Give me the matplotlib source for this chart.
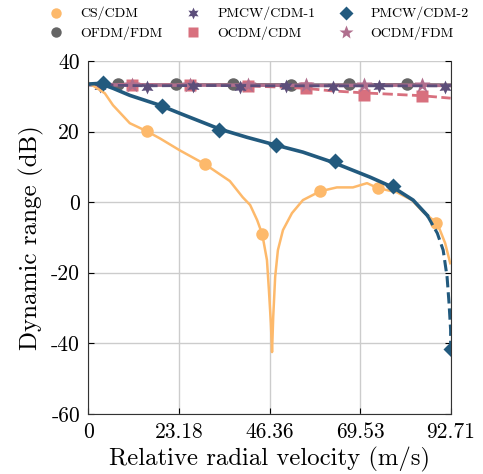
import matplotlib
matplotlib.use("Agg")
import matplotlib.pyplot as plt
from matplotlib.lines import Line2D

plt.rcParams['font.family'] = 'serif'
plt.rcParams['font.serif'] = ['cmr10', 'DejaVu Serif']
plt.rcParams['axes.formatter.use_mathtext'] = True

# velocity axis ticks
v_max = 92.71
x_ticks = [0, 23.18, 46.36, 69.53, 92.71]
x_labels = ['0', '23.18', '46.36', '69.53', '92.71']
y_ticks = [-60, -40, -20, 0, 20, 40]
y_labels = ['-60', '-40', '-20', '0', '20', '40']

# CS/CDM
cs_v = [0, 4.2, 6.3, 10.6, 15.0, 18.3, 23.4, 29.8, 36.2, 39.5, 41.4, 43.2, 44.5,
        45.7, 46.2, 46.7, 47.0, 47.3, 47.8, 48.5, 49.8, 52.1, 54.9, 59.3, 63.6,
        67.7, 71.3, 74.1, 79.0, 82.8, 85.7, 89.3, 91.3, 92.6]
cs_db = [33.9, 30.9, 27.5, 22.4, 20.1, 18.1, 14.7, 10.8, 6.0, 1.4, -0.8, -5.1, -9.1,
         -16.4, -24.9, -34.3, -42.5, -32.6, -21.2, -13.6, -7.9, -3.1, 0.6, 3.1, 4.2,
         4.2, 5.4, 4.0, 2.8, 0.6, -2.8, -6.0, -11.6, -17.3]
cs_mk_v = [15.0, 29.8, 44.5, 59.3, 74.1, 89.0]
cs_mk_db = [20.1, 10.8, -9.1, 3.1, 4.0, -6.0]

# PMCW/CDM-2
p2_v = [0, 2.9, 6.3, 10.6, 18.3, 23.4, 33.7, 40.6, 48.3, 54.9, 62.6, 72.1, 78.0,
        83.1, 86.7]
p2_db = [33.5, 33.7, 32.3, 30.3, 27.5, 25.2, 20.7, 18.4, 16.1, 14.2, 11.3, 7.1, 4.2,
         0.6, -3.7]
p2_tail_v = [86.7, 89.3, 90.8, 91.8, 92.3, 92.71, 92.71]
p2_tail_db = [-3.7, -8.8, -13.6, -21.2, -28.6, -36.3, -41.9]
p2_mk_v = [3.7, 18.8, 33.4, 48.0, 63.1, 78.0, 92.71]
p2_mk_db = [33.7, 27.2, 20.4, 16.1, 11.6, 4.5, -41.6]

# OFDM/FDM
of_v = [0, 20, 40, 60, 80, 92.71]
of_db = [33.4, 33.3, 33.4, 33.3, 33.4, 33.3]
of_mk_v = [7.5, 22.4, 37.0, 51.9, 66.7, 81.6]
of_mk_db = [33.4, 33.4, 33.4, 33.3, 33.4, 33.4]

# PMCW/CDM-1
p1_v = [0, 15, 30, 45, 60, 75, 92.71]
p1_db = [33.3, 33.0, 33.1, 33.0, 33.0, 33.0, 33.0]
p1_mk_v = [2.9, 14.9, 26.7, 38.8, 50.6, 62.6, 74.4, 91.3]
p1_mk_db = [33.0, 32.8, 32.9, 32.8, 32.9, 32.8, 32.9, 32.8]

# OCDM/CDM
oc_v = [0, 20, 40, 50, 55.6, 62, 70.5, 78, 85.3, 92.71]
oc_db = [33.5, 33.3, 33.0, 32.6, 32.3, 31.6, 31.0, 30.6, 30.2, 29.5]
oc_mk_v = [11.1, 26.0, 40.8, 55.6, 70.5, 85.3]
oc_mk_db = [33.2, 33.2, 33.0, 32.3, 30.3, 30.0]

# OCDM/FDM
of2_v = [0, 20, 40, 60, 80, 92.71]
of2_db = [33.3, 33.2, 33.2, 33.1, 33.2, 33.1]
of2_mk_v = [11.1, 26.0, 40.8, 55.6, 70.5, 85.3]
of2_mk_db = [33.3, 33.3, 33.3, 33.2, 33.3, 33.2]

c_cs = '#fdb96b'
c_of = '#656565'
c_p1 = '#5c4e7a'
c_p2 = '#225a7e'
c_oc = '#d8707e'
c_of2 = '#b06f8e'

fig = plt.figure(figsize=(4.83, 4.74), dpi=100)
ax = fig.add_axes([0.183, 0.127, 0.750, 0.744])

ax.plot(of_v, of_db, color=c_of, lw=2)
ax.plot(of_mk_v, of_mk_db, 'o', color=c_of, ms=9, mec='none')
ax.plot(oc_v, oc_db, '--', color=c_oc, lw=2)
ax.plot(oc_mk_v, oc_mk_db, 's', color=c_oc, ms=8, mec='none')
ax.plot(of2_v, of2_db, color=c_of2, lw=2.5)
ax.plot(of2_mk_v, of2_mk_db, '*', color=c_of2, ms=12, mec='none')
ax.plot(p1_v, p1_db, '--', color=c_p1, lw=2)
ax.plot(p1_mk_v, p1_mk_db, marker=(6, 1, 0), ls='none', color=c_p1, ms=10, mec='none')

ax.plot(cs_v, cs_db, color=c_cs, lw=1.8)
ax.plot(cs_mk_v, cs_mk_db, 'o', color=c_cs, ms=9, mec='none')

ax.plot(p2_v, p2_db, color=c_p2, lw=2.6)
ax.plot(p2_tail_v, p2_tail_db, '--', color=c_p2, lw=2.2)
ax.plot(p2_mk_v, p2_mk_db, 'D', color=c_p2, ms=8.5, mec='none')

ax.set_xlim(0, v_max)
ax.set_ylim(-60, 40)
ax.set_xticks(x_ticks)
ax.set_xticklabels(x_labels)
ax.set_yticks(y_ticks)
ax.set_yticklabels(y_labels)
ax.tick_params(direction='in', labelsize=15.5, right=True, length=4)
ax.tick_params(axis='y', pad=6)
ax.tick_params(axis='x', pad=6)
ax.grid(True, color='#cccccc', lw=1)
ax.set_axisbelow(True)
ax.spines['top'].set_visible(False)
for s in ['left', 'right', 'bottom']:
    ax.spines[s].set_color('#333333')
ax.set_xlabel('Relative radial velocity (m/s)', fontsize=17.8, labelpad=4)
ax.set_ylabel('Dynamic range (dB)', fontsize=18, labelpad=5)

handles = [
    Line2D([], [], ls='none', marker='o', color=c_cs, ms=7.5, mec='none'),
    Line2D([], [], ls='none', marker='o', color=c_of, ms=7.5, mec='none'),
    Line2D([], [], ls='none', marker=(6, 1, 0), color=c_p1, ms=8.5, mec='none'),
    Line2D([], [], ls='none', marker='s', color=c_oc, ms=6.5, mec='none'),
    Line2D([], [], ls='none', marker='D', color=c_p2, ms=7, mec='none'),
    Line2D([], [], ls='none', marker='*', color=c_of2, ms=10, mec='none'),
]
labels = ['CS/CDM', 'OFDM/FDM', 'PMCW/CDM-1', 'OCDM/CDM', 'PMCW/CDM-2', 'OCDM/FDM']
fig.legend(handles, labels, ncol=3, loc='upper center', bbox_to_anchor=(0.536, 1.0),
           frameon=False, fontsize=10, handlelength=1.0, handletextpad=1.2,
           columnspacing=1.75, labelspacing=0.45, borderaxespad=0.1)

fig.savefig('out.png', dpi=100)
